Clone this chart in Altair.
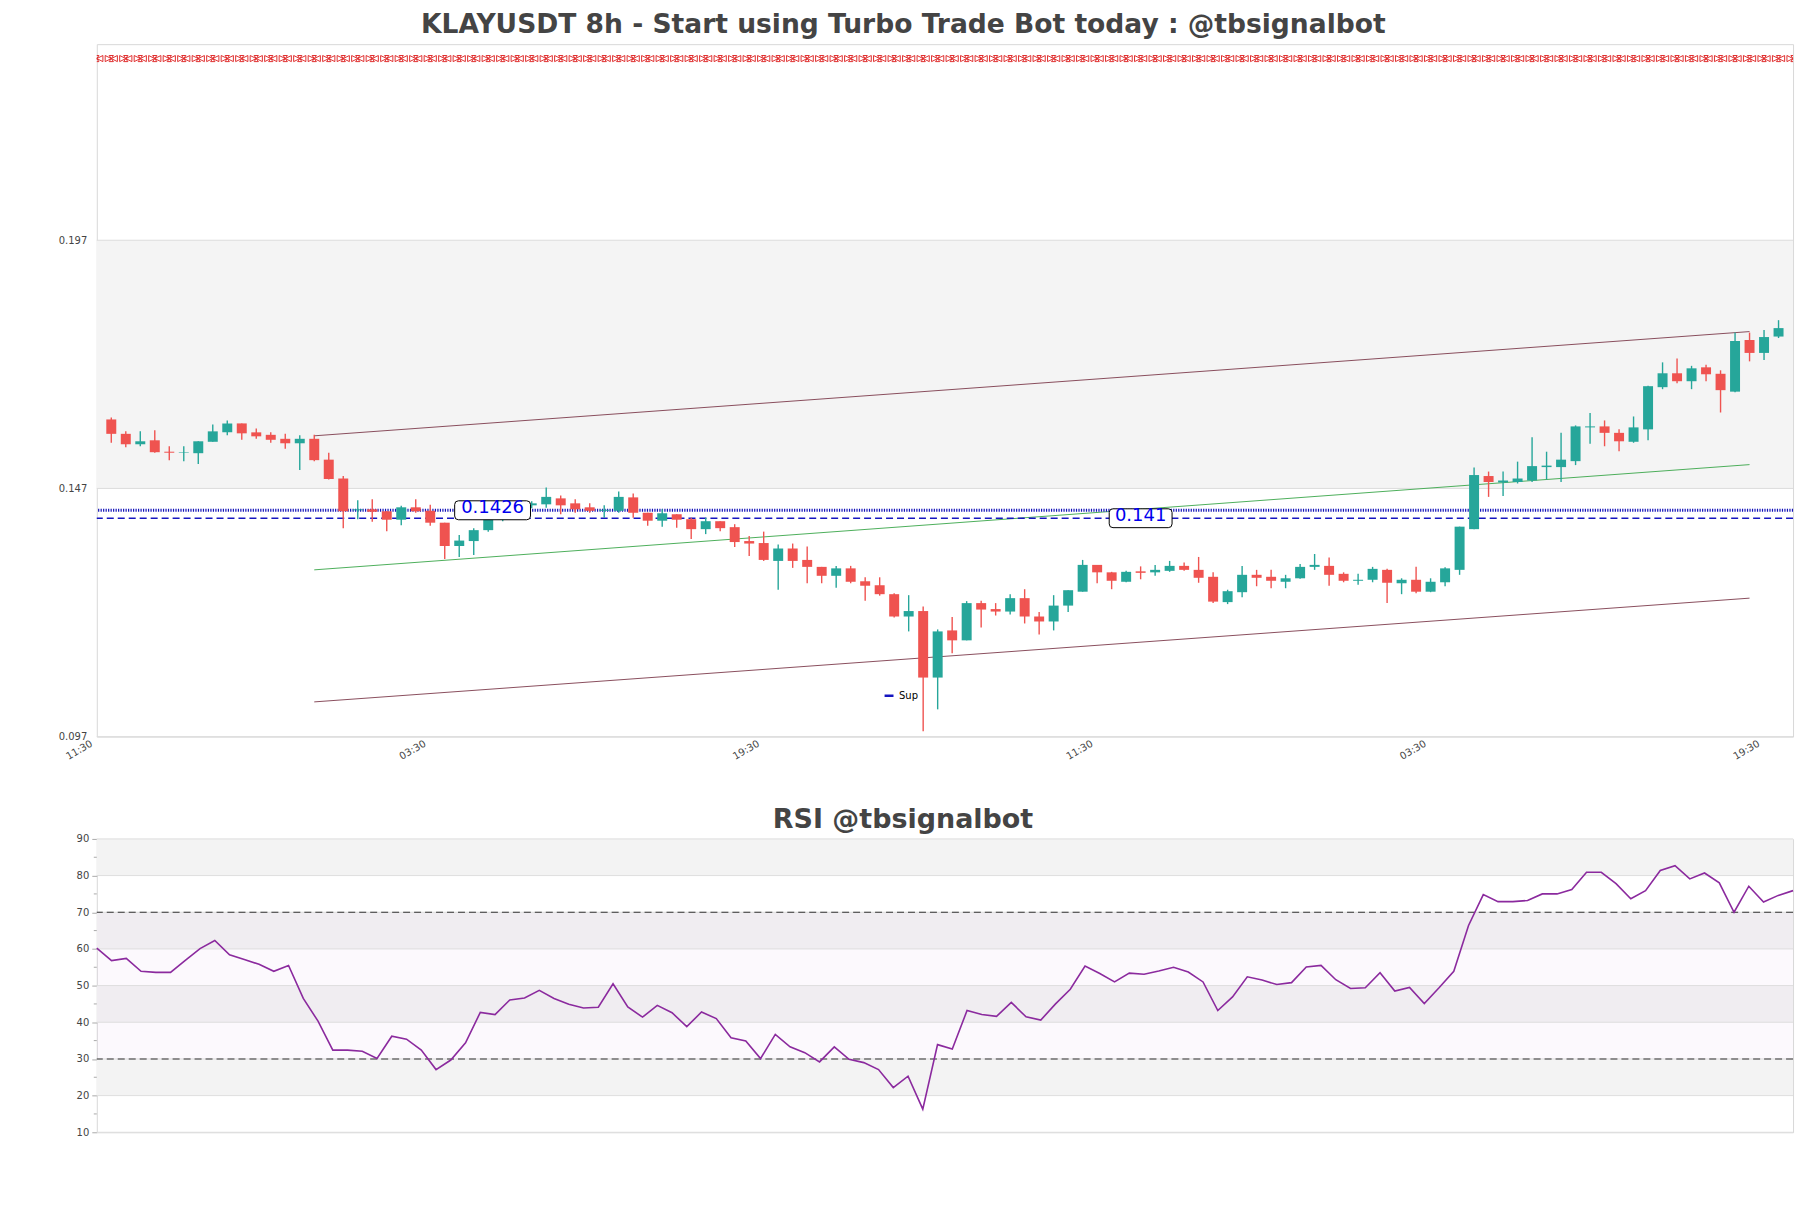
import altair as alt
import pandas as pd

# ---------------- data ----------------
opens = [0.1609, 0.1580, 0.1559, 0.1567, 0.1544, 0.1542, 0.1541, 0.1564, 0.1583, 0.1601,
         0.1583, 0.1578, 0.1570, 0.1561, 0.1570, 0.1528, 0.1490, 0.1426, 0.1428, 0.1424,
         0.1407, 0.1432, 0.1425, 0.1401, 0.1354, 0.1364, 0.1386, 0.1408, 0.1418, 0.1436,
         0.1438, 0.1450, 0.1440, 0.1432, 0.1425, 0.1425, 0.1452, 0.1421, 0.1405, 0.1418,
         0.1408, 0.1388, 0.1404, 0.1392, 0.1364, 0.1360, 0.1324, 0.1349, 0.1326, 0.1312,
         0.1294, 0.1309, 0.1283, 0.1275, 0.1257, 0.1212, 0.1223, 0.1089, 0.1184, 0.1164,
         0.1239, 0.1227, 0.1222, 0.1249, 0.1212, 0.1202, 0.1234, 0.1262, 0.1316, 0.1301,
         0.1282, 0.1303, 0.1301, 0.1304, 0.1314, 0.1306, 0.1292, 0.1241, 0.1261, 0.1296,
         0.1292, 0.1282, 0.1289, 0.1312, 0.1314, 0.1298, 0.1284, 0.1286, 0.1306, 0.1279,
         0.1286, 0.1262, 0.1281, 0.1306, 0.1388, 0.1495, 0.1482, 0.1483, 0.1486, 0.1513,
         0.1513, 0.1525, 0.1593, 0.1595, 0.1582, 0.1564, 0.1589, 0.1674, 0.1702, 0.1686,
         0.1714, 0.1701, 0.1665, 0.1769, 0.1743, 0.1776]
highs = [0.1613, 0.1585, 0.1585, 0.1587, 0.1555, 0.1555, 0.1565, 0.1599, 0.1607, 0.1601,
         0.1591, 0.1583, 0.1580, 0.1577, 0.1578, 0.1542, 0.1495, 0.1446, 0.1448, 0.1424,
         0.1435, 0.1448, 0.1437, 0.1401, 0.1376, 0.1390, 0.1415, 0.1422, 0.1440, 0.1444,
         0.1472, 0.1456, 0.1448, 0.1440, 0.1436, 0.1464, 0.1460, 0.1421, 0.1428, 0.1418,
         0.1411, 0.1411, 0.1404, 0.1398, 0.1374, 0.1383, 0.1357, 0.1359, 0.1353, 0.1312,
         0.1314, 0.1314, 0.1291, 0.1291, 0.1259, 0.1255, 0.1232, 0.1186, 0.1211, 0.1243,
         0.1244, 0.1239, 0.1257, 0.1267, 0.1221, 0.1255, 0.1265, 0.1326, 0.1316, 0.1302,
         0.1304, 0.1313, 0.1316, 0.1324, 0.1321, 0.1332, 0.1301, 0.1266, 0.1314, 0.1306,
         0.1306, 0.1296, 0.1318, 0.1338, 0.1331, 0.1301, 0.1298, 0.1312, 0.1308, 0.1289,
         0.1312, 0.1289, 0.1311, 0.1393, 0.1512, 0.1504, 0.1504, 0.1524, 0.1573, 0.1544,
         0.1582, 0.1597, 0.1622, 0.1607, 0.1589, 0.1615, 0.1677, 0.1724, 0.1732, 0.1717,
         0.1719, 0.1708, 0.1784, 0.1784, 0.1789, 0.1809]
lows = [0.1562, 0.1553, 0.1555, 0.1542, 0.1527, 0.1525, 0.1519, 0.1564, 0.1577, 0.1568,
        0.1570, 0.1562, 0.1550, 0.1507, 0.1525, 0.1488, 0.1390, 0.1408, 0.1403, 0.1384,
        0.1396, 0.1421, 0.1395, 0.1328, 0.1332, 0.1336, 0.1383, 0.1404, 0.1414, 0.1430,
        0.1431, 0.1418, 0.1421, 0.1421, 0.1411, 0.1421, 0.1411, 0.1395, 0.1393, 0.1391,
        0.1368, 0.1378, 0.1384, 0.1352, 0.1334, 0.1324, 0.1266, 0.1310, 0.1279, 0.1279,
        0.1270, 0.1279, 0.1244, 0.1254, 0.1210, 0.1182, 0.0981, 0.1025, 0.1138, 0.1164,
        0.1190, 0.1214, 0.1216, 0.1198, 0.1176, 0.1184, 0.1221, 0.1262, 0.1279, 0.1267,
        0.1281, 0.1287, 0.1294, 0.1302, 0.1304, 0.1280, 0.1239, 0.1237, 0.1251, 0.1273,
        0.1269, 0.1269, 0.1288, 0.1306, 0.1274, 0.1281, 0.1276, 0.1281, 0.1239, 0.1257,
        0.1259, 0.1261, 0.1273, 0.1296, 0.1388, 0.1453, 0.1455, 0.1480, 0.1483, 0.1488,
        0.1483, 0.1517, 0.1560, 0.1555, 0.1545, 0.1562, 0.1567, 0.1670, 0.1682, 0.1670,
        0.1686, 0.1623, 0.1664, 0.1726, 0.1729, 0.1773]
closes = [0.1580, 0.1559, 0.1565, 0.1543, 0.1542, 0.1543, 0.1565, 0.1585, 0.1601, 0.1581,
          0.1575, 0.1568, 0.1561, 0.1570, 0.1527, 0.1489, 0.1424, 0.1428, 0.1423, 0.1407,
          0.1432, 0.1424, 0.1401, 0.1354, 0.1365, 0.1386, 0.1408, 0.1418, 0.1434, 0.1440,
          0.1453, 0.1436, 0.1428, 0.1425, 0.1427, 0.1453, 0.1421, 0.1405, 0.1420, 0.1407,
          0.1388, 0.1404, 0.1390, 0.1362, 0.1359, 0.1326, 0.1349, 0.1324, 0.1312, 0.1294,
          0.1309, 0.1282, 0.1274, 0.1257, 0.1212, 0.1223, 0.1089, 0.1182, 0.1164, 0.1239,
          0.1226, 0.1222, 0.1249, 0.1212, 0.1202, 0.1234, 0.1265, 0.1316, 0.1301, 0.1284,
          0.1302, 0.1300, 0.1306, 0.1314, 0.1306, 0.1290, 0.1242, 0.1263, 0.1296, 0.1290,
          0.1284, 0.1289, 0.1312, 0.1316, 0.1296, 0.1284, 0.1286, 0.1308, 0.1280, 0.1286,
          0.1262, 0.1282, 0.1309, 0.1393, 0.1497, 0.1483, 0.1486, 0.1490, 0.1515, 0.1516,
          0.1528, 0.1595, 0.1595, 0.1582, 0.1565, 0.1593, 0.1676, 0.1702, 0.1686, 0.1712,
          0.1700, 0.1668, 0.1767, 0.1743, 0.1775, 0.1793]

rsi_values = [60.2, 56.8, 57.4, 53.9, 53.6, 53.6, 56.9, 60.1, 62.3, 58.4,
              57.1, 55.8, 53.9, 55.5, 46.5, 40.3, 32.4, 32.4, 32.1, 30.1,
              36.2, 35.4, 32.4, 27.1, 29.7, 34.4, 42.7, 42.1, 46.1, 46.6,
              48.7, 46.5, 44.9, 43.9, 44.1, 50.5, 44.2, 41.4, 44.6, 42.6,
              38.8, 42.8, 41.0, 35.8, 34.9, 30.1, 36.7, 33.3, 31.7, 29.2,
              33.3, 29.9, 29.0, 27.1, 22.2, 25.3, 16.3, 33.9, 32.7, 43.2,
              42.1, 41.6, 45.4, 41.5, 40.6, 45.0, 49.0, 55.3, 53.3, 51.0,
              53.4, 53.1, 54.0, 55.0, 53.7, 51.0, 43.2, 46.9, 52.4, 51.5,
              50.3, 50.8, 55.1, 55.5, 51.6, 49.2, 49.4, 53.5, 48.5, 49.5,
              45.1, 49.4, 53.9, 66.4, 74.8, 72.9, 72.9, 73.2, 75.0, 75.0,
              76.2, 80.9, 80.9, 77.8, 73.7, 75.9, 81.4, 82.7, 79.1, 80.7,
              78.0, 70.0, 77.1, 72.8, 74.6, 75.9]

x_tick_pos = [-1, 22, 45, 68, 91, 114]
x_tick_labels = ["11:30", "03:30", "19:30", "11:30", "03:30", "19:30"]
price_ticks = [0.097, 0.147, 0.197]
price_domain = [0.097, 0.2365]
x_domain = [-1, 116]

# channel lines (start index, start price, end index, end price)
channel_names = ["upper", "middle", "lower"]
channel_x0 = [14, 14, 14]
channel_y0 = [0.1576, 0.1306, 0.1040]
channel_x1 = [113, 113, 113]
channel_y1 = [0.1786, 0.1518, 0.1249]

level_values = [0.1426, 0.141]
level_text = ["0.1426", "0.141"]
level_label_x = [26.3, 71.0]
signal_level = 0.2336
signal_positions = list(range(-1, 117))

rsi_ticks = [10, 20, 30, 40, 50, 60, 70, 80, 90]
rsi_minor = [15, 25, 35, 45, 55, 65, 75, 85]
rsi_bands_lo = [20, 40, 60, 80]
rsi_bands_hi = [30, 50, 70, 90]
rsi_levels = [30, 70]

FONT = "DejaVu Sans"
UP, DOWN = "#26a69a", "#ef5350"

# ---------------- tables ----------------
n = len(opens)
candles = pd.DataFrame({"i": list(range(n)), "o": opens, "h": highs, "l": lows, "c": closes})
candles["dir"] = ["up" if c >= o else "down" for o, c in zip(opens, closes)]

chan = pd.DataFrame({
    "name": channel_names * 2,
    "x": channel_x0 + channel_x1,
    "y": channel_y0 + channel_y1,
})

xlabel_expr = " : ".join(
    f"datum.value == {p} ? '{t}'" for p, t in zip(x_tick_pos, x_tick_labels)
) + " : ''"

xscale = alt.Scale(domain=x_domain, nice=False, zero=False, padding=0)
yscale = alt.Scale(domain=price_domain, nice=False, zero=False, padding=0)

X = alt.X("i:Q", scale=xscale,
          axis=alt.Axis(values=x_tick_pos, labelExpr=xlabel_expr, labelAngle=-30,
                        labelAlign="right", labelBaseline="top", labelFontSize=10,
                        labelColor="#444444", labelFont=FONT, grid=False, ticks=False,
                        domain=False, title=None, labelPadding=1.5, labelOffset=-8,
                        labelOverlap=False))

band = alt.Chart(pd.DataFrame({"lo": [price_ticks[1]], "hi": [price_ticks[2]]})).mark_rect(
    color="#f4f4f4").encode(
    y=alt.Y("lo:Q", scale=yscale,
            axis=alt.Axis(values=price_ticks, format=".3f", labelFontSize=10, labelColor="#444444",
                          labelFont=FONT, grid=False, ticks=False, domain=False, title=None,
                          labelPadding=10, labelOverlap=False)),
    y2="hi:Q")

grid = alt.Chart(pd.DataFrame({"p": price_ticks})).mark_rule(color="#dcdcdc", strokeWidth=1).encode(
    y=alt.Y("p:Q", scale=yscale))

chan_brown = alt.Chart(chan[chan["name"] != "middle"]).mark_line(
    color="#7d3b4c", strokeWidth=1, opacity=0.9).encode(
    x=alt.X("x:Q", scale=xscale), y=alt.Y("y:Q", scale=yscale), detail="name:N")
chan_green = alt.Chart(chan[chan["name"] == "middle"]).mark_line(
    color="#3aa64a", strokeWidth=1, opacity=0.9).encode(
    x=alt.X("x:Q", scale=xscale), y=alt.Y("y:Q", scale=yscale))

dotted = alt.Chart(pd.DataFrame({"p": [level_values[0]]})).mark_rule(
    color="#1212b8", strokeWidth=3, strokeDash=[1.2, 1.3]).encode(y=alt.Y("p:Q", scale=yscale))
dashed = alt.Chart(pd.DataFrame({"p": [level_values[1]], "name": ["Sup"]})).mark_rule(
    strokeWidth=1.3, strokeDash=[7, 4]).encode(
    y=alt.Y("p:Q", scale=yscale),
    color=alt.Color("name:N", scale=alt.Scale(domain=["Sup"], range=["#1515c0"]),
                    legend=alt.Legend(title=None, orient="none", legendX=788, legendY=647,
                                      symbolType="stroke", symbolStrokeWidth=2.5, symbolSize=80,
                                      labelFontSize=10, labelFont=FONT, labelColor="#000000",
                                      symbolDash=[1, 0])))

cscale = alt.Scale(domain=["up", "down"], range=[UP, DOWN])
wicks = alt.Chart(candles).mark_rule(strokeWidth=1.4).encode(
    x=X, y=alt.Y("l:Q", scale=yscale), y2="h:Q",
    color=alt.Color("dir:N", scale=cscale, legend=None))
bodies = alt.Chart(candles).mark_bar(size=10).encode(
    x=alt.X("i:Q", scale=xscale), y=alt.Y("o:Q", scale=yscale), y2="c:Q",
    color=alt.Color("dir:N", scale=cscale, legend=None))

signals = alt.Chart(pd.DataFrame({"s": signal_positions})).mark_point(
    shape="M-1,-0.5L1,0.5L1,-0.5L-1,0.5Z M-0.35,-0.5L0.35,-0.5L-0.35,0.5L0.35,0.5Z",
    size=150, filled=False, stroke="#e03030", strokeWidth=1, opacity=1, clip=True).encode(
    x=alt.X("s:Q", scale=xscale), y=alt.YDatum(signal_level))

lab_df = pd.DataFrame({"x": level_label_x, "y": level_values, "t": level_text})
box_paths = [
    "M-0.9,-0.25L0.9,-0.25Q1,-0.25 1,-0.15L1,0.15Q1,0.25 0.9,0.25L-0.9,0.25Q-1,0.25 -1,0.15L-1,-0.15Q-1,-0.25 -0.9,-0.25Z",
    "M-0.88,-0.3L0.88,-0.3Q1,-0.3 1,-0.18L1,0.18Q1,0.3 0.88,0.3L-0.88,0.3Q-1,0.3 -1,0.18L-1,-0.18Q-1,-0.3 -0.88,-0.3Z",
]
box_sizes = [76 ** 2, 63 ** 2]
boxes = []
for k in range(len(level_values)):
    boxes.append(alt.Chart(lab_df.iloc[[k]]).mark_point(
        shape=box_paths[k], size=box_sizes[k], filled=True, fill="#ffffff", stroke="#000000",
        strokeWidth=1, opacity=1, dy=-2 if k == 1 else 0).encode(
        x=alt.X("x:Q", scale=xscale), y=alt.Y("y:Q", scale=yscale)))
texts = alt.Chart(lab_df).mark_text(font=FONT, fontSize=18, color="#0000ee", baseline="middle",
                                    align="center", dy=-2).encode(
    x=alt.X("x:Q", scale=xscale), y=alt.Y("y:Q", scale=yscale), text="t:N")

main = alt.layer(band, grid, chan_brown, chan_green, dotted, dashed, wicks, bodies, signals,
                 *boxes, texts).resolve_scale(color="independent").properties(width=1700, height=694)

# ---------------- RSI panel ----------------
rsi_df = pd.DataFrame({"i": list(range(len(rsi_values))), "r": rsi_values})
rscale = alt.Scale(domain=[10, 90], nice=False, zero=False, padding=0)
rx = alt.Scale(domain=[0, len(rsi_values) - 1], nice=False, zero=False, padding=0)

rbands = alt.Chart(pd.DataFrame({"lo": rsi_bands_lo, "hi": rsi_bands_hi})).mark_rect(
    color="#f3f3f3").encode(
    y=alt.Y("lo:Q", scale=rscale,
            axis=alt.Axis(values=rsi_ticks, tickCount=9, labelFontSize=10, labelColor="#444444",
                          labelFont=FONT, grid=False, ticks=True, tickSize=5, tickColor="#aaaaaa",
                          domain=False, title=None, labelPadding=3, labelOverlap=False,
                          labelSeparation=0)),
    y2="hi:Q")
hatch = alt.Chart(pd.DataFrame({"lo": [rsi_levels[0]], "hi": [rsi_levels[1]]})).mark_rect(
    color="#b070c8", opacity=0.045).encode(y=alt.Y("lo:Q", scale=rscale), y2="hi:Q")
rgrid = alt.Chart(pd.DataFrame({"p": rsi_ticks})).mark_rule(color="#dedede").encode(
    y=alt.Y("p:Q", scale=rscale))
minor = alt.Chart(pd.DataFrame({"p": rsi_minor})).mark_rule(color="#aaaaaa").encode(
    x=alt.value(-3), x2=alt.value(0), y=alt.Y("p:Q", scale=rscale))
rlev = alt.Chart(pd.DataFrame({"p": rsi_levels})).mark_rule(
    color="#333333", strokeDash=[7, 4], strokeWidth=1.1).encode(y=alt.Y("p:Q", scale=rscale))
rline = alt.Chart(rsi_df).mark_line(color="#8b2a9e", strokeWidth=1.6).encode(
    x=alt.X("i:Q", scale=rx, axis=None), y=alt.Y("r:Q", scale=rscale))

rsi = alt.layer(rbands, hatch, rgrid, minor, rlev, rline).properties(
    width=1700, height=294,
    title=alt.TitleParams("RSI @tbsignalbot", fontSize=27, font=FONT, fontWeight="bold",
                          color="#444444", anchor="middle", dx=-42, offset=0))

chart = alt.vconcat(main, rsi, spacing=42.5).properties(
    title=alt.TitleParams("KLAYUSDT 8h - Start using Turbo Trade Bot today : @tbsignalbot",
                          fontSize=26.6, font=FONT, fontWeight="bold", color="#444444",
                          anchor="middle", dx=-24, offset=5),
    padding={"left": 57, "top": 10, "right": 14, "bottom": 10},
    background="#ffffff",
).configure_view(stroke="#d8d8d8", strokeWidth=1).configure_axis(
    labelFont=FONT, labelOverlap=False)

chart.save("out.html", embed_options={"renderer": "svg", "actions": False})
